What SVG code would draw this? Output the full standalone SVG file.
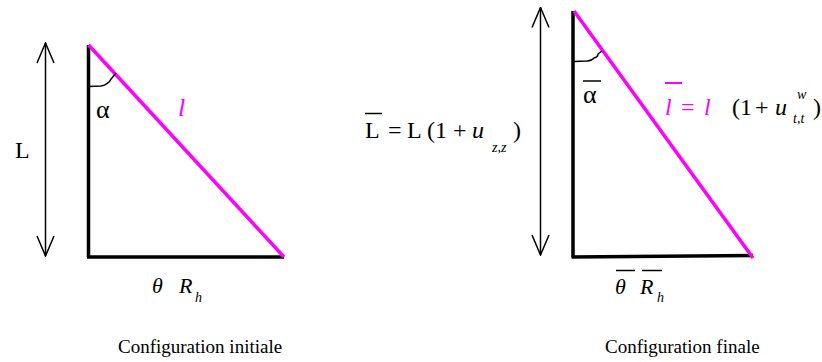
<svg xmlns="http://www.w3.org/2000/svg" width="822" height="362" viewBox="0 0 822 362">
<defs>
<style>
.serif{font-family:"Liberation Serif","Times New Roman",serif;fill:#000}
.it{font-style:italic}
.mag{fill:#FF00FF}
.leg{stroke:#000;stroke-width:3.5;fill:none}
.hyp{stroke:#FF00FF;stroke-width:3.5;fill:none}
.arc{stroke:#000;stroke-width:1.5;fill:none}
.bar{stroke:#000;stroke-width:1.5}
.barm{stroke:#FF00FF;stroke-width:2}
.dim{stroke:#000;stroke-width:1.5;fill:none}
</style>
<marker id="vhead" viewBox="0 0 22 20" refX="21" refY="10" markerWidth="22" markerHeight="20" markerUnits="userSpaceOnUse" orient="auto-start-reverse">
<path d="M1,1.5 L21,10 L1,18.5" fill="none" stroke="#000" stroke-width="1.5"/>
</marker>
</defs>
<rect width="822" height="362" fill="#fff"/>

<g id="triangle-initial">
<line class="leg" x1="88.5" y1="45" x2="88.5" y2="257"/>
<line class="leg" x1="87" y1="257" x2="284" y2="257"/>
<line class="hyp" x1="88.5" y1="45" x2="284" y2="257"/>
<path class="arc" d="M89,86.5 L101,86 Q105,85.5 107,83.5 Q110,82 111,79 L116,73"/>
<text class="serif" x="96" y="118" font-size="26">α</text>
<text class="serif it mag" x="178" y="116" font-size="26">l</text>
<text class="serif it" x="152" y="293" font-size="22">θ</text>
<text class="serif it" x="179" y="293" font-size="22">R</text>
<text class="serif it" x="195" y="302" font-size="14">h</text>
</g>

<g id="dim-L">
<text class="serif" x="15" y="158" font-size="24">L</text>
</g>

<g id="triangle-final">
<line class="leg" x1="573" y1="11" x2="573" y2="257"/>
<line class="leg" x1="571.5" y1="257" x2="753" y2="255.5"/>
<line class="hyp" x1="574" y1="11" x2="753" y2="258"/>
<path class="arc" d="M574,61.5 L587,61 Q592,60.5 594,58 Q598,57 598,54 L602,51"/>
<text class="serif" x="583" y="103" font-size="26">α</text>
<line class="bar" x1="583" y1="81" x2="601" y2="81"/>
<text class="serif mag" font-size="24"><tspan class="it" x="665" y="115">l</tspan><tspan x="681" y="115">=</tspan><tspan class="it" x="704" y="115">l</tspan></text>
<line class="barm" x1="665" y1="83" x2="682" y2="83"/>
<text class="serif" font-size="24"><tspan x="732" y="115">(1</tspan><tspan x="755" y="115">+</tspan><tspan class="it" x="775" y="115">u</tspan><tspan x="813" y="115">)</tspan></text>
<text class="serif it" x="797" y="99" font-size="14">w</text>
<text class="serif it" x="793" y="123" font-size="14">t,t</text>
<text class="serif it" x="615" y="294" font-size="22">θ</text>
<line class="bar" x1="616" y1="270.5" x2="635" y2="270.5"/>
<text class="serif it" x="640" y="294" font-size="22">R</text>
<line class="bar" x1="642" y1="270.5" x2="662" y2="270.5"/>
<text class="serif it" x="657" y="302" font-size="14">h</text>
</g>

<g id="dim-Lbar">
<line class="bar" x1="365" y1="113.5" x2="382" y2="113.5"/>
<text class="serif" font-size="24"><tspan x="365" y="138">L</tspan><tspan x="388" y="138">=</tspan><tspan x="407" y="138">L</tspan><tspan x="427" y="138">(1</tspan><tspan x="453" y="138">+</tspan><tspan class="it" x="472" y="138">u</tspan><tspan x="513" y="138">)</tspan></text>
<text class="serif it" x="492" y="152" font-size="14">z,z</text>
</g>

<g id="connectors">
<line class="dim" x1="45.5" y1="43" x2="45.5" y2="256" marker-start="url(#vhead)" marker-end="url(#vhead)"/>
<line class="dim" x1="540.5" y1="7.5" x2="540.5" y2="255" marker-start="url(#vhead)" marker-end="url(#vhead)"/>
</g>

<g id="captions">
<text class="serif" x="118" y="353" font-size="19">Configuration initiale</text>
<text class="serif" x="605" y="353" font-size="19">Configuration finale</text>
</g>
</svg>
